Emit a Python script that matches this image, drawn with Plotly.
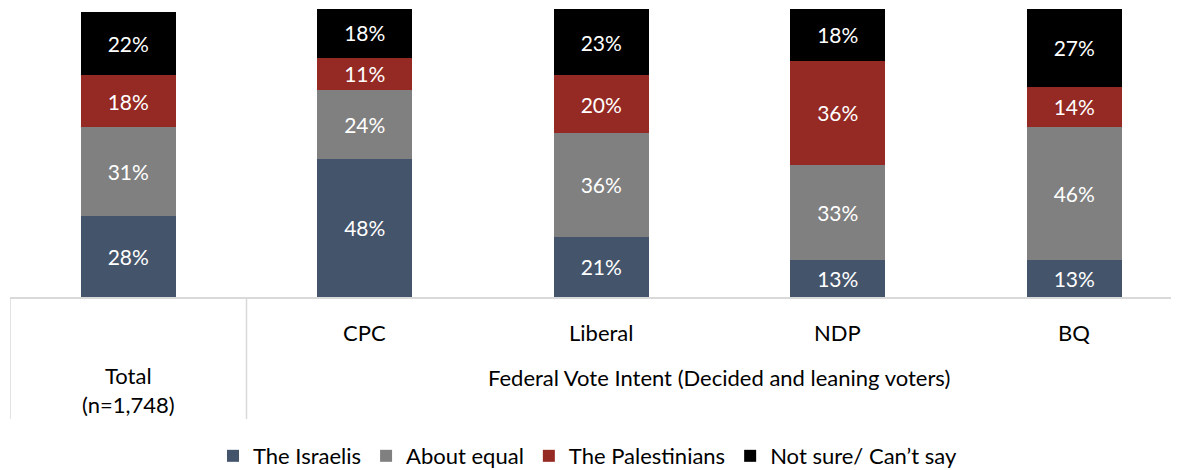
import plotly.graph_objects as go

categories = ["Total", "CPC", "Liberal", "NDP", "BQ"]
series_names = ["The Israelis", "About equal", "The Palestinians", "Not sure/ Can’t say"]
israelis = [28, 48, 21, 13, 13]
about_equal = [31, 24, 36, 33, 46]
palestinians = [18, 11, 20, 36, 14]
not_sure = [22, 18, 23, 18, 27]
colors = ["#44546A", "#808080", "#952923", "#000000"]
group_label = "Federal Vote Intent (Decided and leaning voters)"
total_label = "Total<br>(n=1,748)"

FONT = "Lato"
OFF = 8  # page body margin offset
PLOT_TOP, PLOT_BOTTOM = 8.5, 297.5
H = PLOT_BOTTOM - PLOT_TOP
W_FIG, H_FIG = 1179 - OFF, 470 - OFF


def py(p):
    return (PLOT_BOTTOM - p) / H


fig = go.Figure()
for name, vals, col in zip(series_names, [israelis, about_equal, palestinians, not_sure], colors):
    fig.add_trace(go.Bar(
        x=list(range(len(categories))), y=vals, name=name, marker_color=col,
        marker_line_width=0, width=0.40,
        text=[f"{v}%" for v in vals], textposition="inside", insidetextanchor="middle",
        textangle=0, textfont=dict(color="white", size=21, family=FONT),
        hoverinfo="skip",
    ))

ann = []
for i, c in enumerate(categories[1:], start=1):
    ann.append(dict(x=i, y=py(333), xref="x", yref="paper", text=c, showarrow=False,
                    font=dict(size=22, color="black", family=FONT), yanchor="middle"))
ann.append(dict(x=0, y=py(391), xref="x", yref="paper", text=total_label, showarrow=False,
                font=dict(size=22, color="black", family=FONT), yanchor="middle"))
ann.append(dict(x=2.5, y=py(378), xref="x", yref="paper", text=group_label, showarrow=False,
                font=dict(size=22, color="black", family=FONT), yanchor="middle"))

shapes = []
for xv in [-0.5, 0.5]:
    shapes.append(dict(type="line", xref="x", yref="paper", x0=xv, x1=xv, y0=0, y1=py(420),
                       line=dict(color="#d9d9d9", width=1.5)))

fig.update_layout(
    barmode="stack", width=W_FIG, height=H_FIG,
    margin=dict(l=10 - OFF, r=0, t=PLOT_TOP - OFF, b=H_FIG - (PLOT_BOTTOM - OFF), autoexpand=False),
    plot_bgcolor="white", paper_bgcolor="white",
    font=dict(family=FONT, size=22, color="black"),
    xaxis=dict(range=[-0.5, 4.443], showticklabels=False, showgrid=False, zeroline=False,
               showline=True, linecolor="#d9d9d9", linewidth=1.5, ticks=""),
    yaxis=dict(range=[0, 100], visible=False),
    showlegend=True,
    legend=dict(orientation="h", x=(213 - 10) / 1169, xanchor="left", y=py(436), yanchor="top",
                font=dict(size=22, family=FONT), traceorder="normal", itemwidth=30,
                tracegroupgap=0),
    annotations=ann, shapes=shapes,
)

fig.write_html("out.html")
